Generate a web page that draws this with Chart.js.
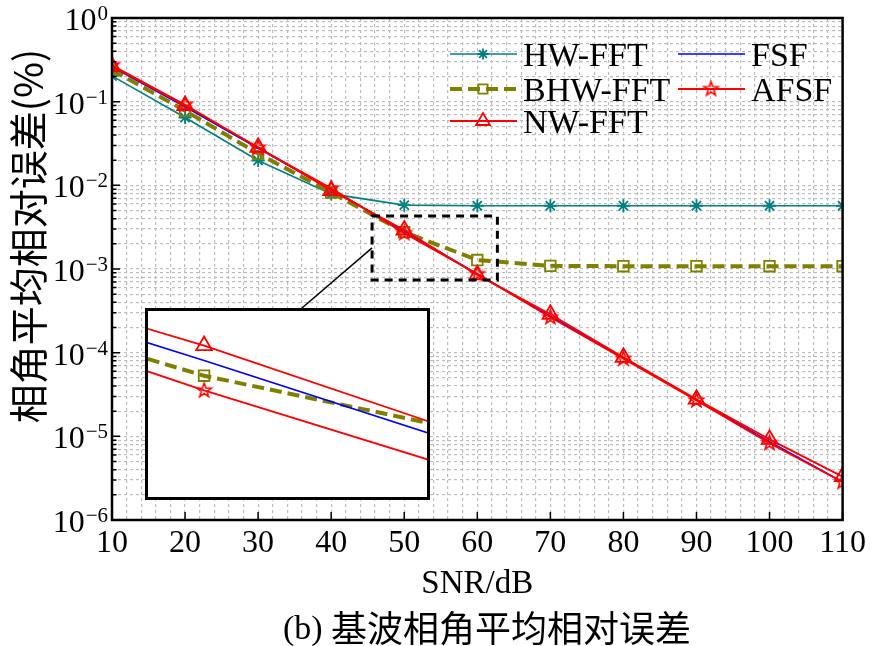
<!DOCTYPE html>
<html>
<head>
<meta charset="utf-8">
<script src="https://cdn.jsdelivr.net/npm/chart.js@4"></script>
<style>
  html, body { margin: 0; padding: 0; background: #fff; }
  #wrap { position: relative; width: 870px; height: 646px; }
  #main { position: absolute; left: 0; top: 0; }
  #insetBox { position: absolute; left: 145px; top: 308px; width: 279px; height: 186px; border: 3px solid #000; background: #fff; }
  #inset { display: block; }
</style>
</head>
<body>
<div id="wrap">
  <canvas id="main" width="870" height="646"></canvas>
  <div id="insetBox"><canvas id="inset" width="279" height="186"></canvas></div>
</div>
<script>
// SNR (dB) on the x axis
const snr = [10, 20, 30, 40, 50, 60, 70, 80, 90, 100, 110];

// mean relative phase error (%) per method
const hwFft = [0.203, 0.0646, 0.0198, 0.0079, 0.0058, 0.0057, 0.0057, 0.0057, 0.0057, 0.0057, 0.0057];
const bhwFft = [0.24, 0.078, 0.024, 0.0082, 0.00276, 0.00128, 0.00109, 0.00108, 0.00108, 0.00108, 0.00108];
const nwFft = [0.265, 0.090, 0.0285, 0.00866, 0.00292, 0.00085, 0.000288, 0.000088, 0.0000278, 0.0000092, 0.0000033];
const fsf = [0.26, 0.087, 0.0278, 0.0089, 0.00284, 0.00087, 0.000272, 0.0000865, 0.0000272, 0.0000086, 0.00000285];
const afsf = [0.272, 0.092, 0.0282, 0.0092, 0.002685, 0.00087, 0.000265, 0.0000845, 0.0000269, 0.0000083, 0.00000285];

const seriesNames = ["HW-FFT", "BHW-FFT", "NW-FFT", "FSF", "AFSF"];

// axes
const xMin = 10, xMax = 110, xGridStep = 2, xLabelStep = 10;
const yExponents = [0, -1, -2, -3, -4, -5, -6];
const yMinorMantissas = [2, 3, 4, 5, 6, 7, 8, 9];

// zoom window marked on the main plot, and the range the inset shows
const zoomBoxX = [45.6, 62.75];
const zoomBoxY = [0.00074, 0.0043];
const zoomLinkY = 0.00179;
const insetX = [49.713, 51.141];
const insetY = [0.002223, 0.003115];

const xTitle = "SNR/dB";
const yTitle = "相角平均相对误差(%)";
const captionTag = "(b)";
const captionText = "基波相角平均相对误差";

const SERIF = "'Liberation Serif', 'Times New Roman', serif";
const CJK = "'Noto Sans CJK SC', 'Noto Sans', sans-serif";
const TEAL = "#008080", OLIVE = "#808000", RED = "#ff0000", BLUE = "#0000ff";
const GRID = "#bdbdbd";

function starMarker(r, color) {
    const c = document.createElement("canvas");
    const s = Math.ceil(r * 2 + 4);
    c.width = s; c.height = s;
    const ctx = c.getContext("2d");
    ctx.strokeStyle = color;
    ctx.lineWidth = 1.6;
    ctx.beginPath();
    for (let i = 0; i < 10; i++) {
        const rr = i % 2 ? r * 0.4 : r;
        const a = -Math.PI / 2 + i * Math.PI / 5;
        const px = s / 2 + rr * Math.cos(a), py = s / 2 + rr * Math.sin(a);
        if (i) ctx.lineTo(px, py); else ctx.moveTo(px, py);
    }
    ctx.closePath();
    ctx.stroke();
    return c;
}
const pentagram = starMarker(7.5, RED);

function pts(values) {
    return snr.map((x, i) => ({ x: x, y: values[i] }));
}

function makeDatasets() {
    const common = { pointBackgroundColor: "rgba(0,0,0,0)", pointHoverRadius: 0, tension: 0 };
    return [
        Object.assign({}, common, { label: seriesNames[0], data: pts(hwFft), borderColor: TEAL, pointBorderColor: TEAL,
            borderWidth: 1.6, pointStyle: "star", pointRadius: 6.5, pointBorderWidth: 1.8, order: 4 }),
        Object.assign({}, common, { label: seriesNames[1], data: pts(bhwFft), borderColor: OLIVE, pointBorderColor: OLIVE,
            borderWidth: 4, borderDash: [12, 6], pointStyle: "rect", pointRadius: 7.5, pointBorderWidth: 1.8, order: 3 }),
        Object.assign({}, common, { label: seriesNames[2], data: pts(nwFft), borderColor: RED, pointBorderColor: RED,
            borderWidth: 1.8, pointStyle: "triangle", pointRadius: 9, pointBorderWidth: 1.8, order: 1 }),
        Object.assign({}, common, { label: seriesNames[3], data: pts(fsf), borderColor: BLUE,
            borderWidth: 1.6, pointRadius: 0, order: 2 }),
        Object.assign({}, common, { label: seriesNames[4], data: pts(afsf), borderColor: RED, pointBorderColor: RED,
            borderWidth: 1.8, pointStyle: pentagram, pointRadius: 7.5, pointBorderWidth: 1.6, order: 0 })
    ];
}

const yGridValues = [];
yExponents.slice().reverse().forEach((e) => {
    yGridValues.push(Math.pow(10, e));
    if (e < 0) yMinorMantissas.forEach((m) => yGridValues.push(m * Math.pow(10, e)));
});

const legendSlots = [
    { x: 450, y: 54 }, { x: 450, y: 89 }, { x: 450, y: 121 },
    { x: 678, y: 54 }, { x: 678, y: 89 }
];

const decorations = {
    id: "decorations",
    afterDraw(chart) {
        const ctx = chart.ctx;
        const a = chart.chartArea;
        const xs = chart.scales.x, ys = chart.scales.y;
        ctx.save();

        // inward tick marks
        ctx.strokeStyle = "#000";
        ctx.lineWidth = 1.5;
        ctx.beginPath();
        yExponents.forEach((e) => {
            const py = ys.getPixelForValue(Math.pow(10, e));
            ctx.moveTo(a.left, py); ctx.lineTo(a.left + 8, py);
            if (e < 0) yMinorMantissas.forEach((m) => {
                const q = ys.getPixelForValue(m * Math.pow(10, e));
                ctx.moveTo(a.left, q); ctx.lineTo(a.left + 4.5, q);
            });
        });
        for (let v = xMin; v <= xMax; v += xLabelStep) {
            const px = xs.getPixelForValue(v);
            ctx.moveTo(px, a.bottom); ctx.lineTo(px, a.bottom - 8);
        }
        ctx.stroke();

        // frame
        ctx.lineWidth = 2.5;
        ctx.strokeRect(a.left, a.top, a.right - a.left, a.bottom - a.top);

        // y tick labels 10^n
        ctx.fillStyle = "#000";
        ctx.textAlign = "right";
        ctx.textBaseline = "alphabetic";
        yExponents.forEach((e) => {
            const py = ys.getPixelForValue(Math.pow(10, e));
            const ex = e === 0 ? "0" : "\u2212" + Math.abs(e);
            ctx.font = "21px " + SERIF;
            const w = ctx.measureText(ex).width;
            ctx.fillText(ex, 108, py + 2);
            ctx.font = "32px " + SERIF;
            ctx.fillText("10", 108 - w - 1, py + 12);
        });

        // y title
        ctx.save();
        ctx.translate(28, 236);
        ctx.rotate(-Math.PI / 2);
        ctx.textAlign = "center";
        ctx.textBaseline = "middle";
        ctx.font = "39px " + CJK;
        ctx.fillText(yTitle, 0, 0);
        ctx.restore();

        // caption
        ctx.font = "34px " + SERIF;
        const tagW = ctx.measureText(captionTag + " ").width;
        ctx.font = "36px " + CJK;
        const txtW = ctx.measureText(captionText).width;
        let cx = 487 - (tagW + txtW) / 2;
        ctx.textAlign = "left";
        ctx.textBaseline = "middle";
        ctx.font = "34px " + SERIF;
        ctx.fillText(captionTag, cx, 630);
        ctx.font = "36px " + CJK;
        ctx.fillText(captionText, cx + tagW, 628);

        // zoom window and link to the inset
        const bx0 = xs.getPixelForValue(zoomBoxX[0]), bx1 = xs.getPixelForValue(zoomBoxX[1]);
        const by0 = ys.getPixelForValue(zoomBoxY[1]), by1 = ys.getPixelForValue(zoomBoxY[0]);
        ctx.setLineDash([8, 6]);
        ctx.lineWidth = 3;
        ctx.strokeRect(bx0, by0, bx1 - bx0, by1 - by0);
        ctx.setLineDash([]);
        const box = document.getElementById("insetBox");
        ctx.lineWidth = 1.5;
        ctx.beginPath();
        ctx.moveTo(bx0, ys.getPixelForValue(zoomLinkY));
        ctx.lineTo(box.offsetLeft + 157, box.offsetTop);
        ctx.stroke();

        // legend
        chart.data.datasets.forEach((ds, i) => {
            const s = legendSlots[i];
            ctx.strokeStyle = ds.borderColor;
            ctx.lineWidth = ds.borderWidth;
            ctx.setLineDash(ds.borderDash || []);
            ctx.beginPath();
            ctx.moveTo(s.x, s.y); ctx.lineTo(s.x + 67, s.y);
            ctx.stroke();
            ctx.setLineDash([]);
            if (ds.pointRadius > 0) {
                ctx.fillStyle = "rgba(0,0,0,0)";
                ctx.lineWidth = ds.pointBorderWidth;
                Chart.helpers.drawPoint(ctx, { pointStyle: ds.pointStyle, radius: ds.pointRadius - 1,
                    borderWidth: ds.pointBorderWidth, rotation: 0 }, s.x + 33, s.y);
            }
            ctx.fillStyle = "#000";
            ctx.textAlign = "left";
            ctx.textBaseline = "alphabetic";
            ctx.font = "34px " + SERIF;
            ctx.fillText(ds.label, s.x + 73, s.y + 12);
        });
        ctx.restore();
    }
};

new Chart(document.getElementById("main"), {
    type: "line",
    data: { datasets: makeDatasets() },
    options: {
        responsive: false,
        animation: false,
        devicePixelRatio: 1,
        layout: { padding: { left: 0, right: 27, top: 18, bottom: 42 }, autoPadding: false },
        plugins: { legend: { display: false }, tooltip: { enabled: false } },
        scales: {
            x: {
                type: "linear", min: xMin, max: xMax,
                afterFit: (s) => { s.height = 84; },
                ticks: {
                    stepSize: xGridStep, autoSkip: false, maxRotation: 0, padding: 4, color: "#000",
                    font: { family: SERIF, size: 32 },
                    callback: (v) => (v % xLabelStep === 0 ? String(v) : "")
                },
                grid: { color: GRID, lineWidth: 1.2, drawTicks: false },
                border: { display: false, dash: [3, 3] },
                title: { display: true, text: xTitle, color: "#000", font: { family: SERIF, size: 33 }, padding: 0 }
            },
            y: {
                type: "logarithmic", min: 1e-6, max: 1,
                afterFit: (s) => { s.width = 112; },
                afterBuildTicks: (s) => { s.ticks = yGridValues.map((v) => ({ value: v })); },
                ticks: { display: false },
                grid: { color: GRID, lineWidth: 1.2, drawTicks: false },
                border: { display: false, dash: [3, 3] }
            }
        }
    },
    plugins: [decorations]
});

new Chart(document.getElementById("inset"), {
    type: "line",
    data: { datasets: makeDatasets() },
    options: {
        responsive: false,
        animation: false,
        devicePixelRatio: 1,
        layout: { padding: 0, autoPadding: false },
        plugins: { legend: { display: false }, tooltip: { enabled: false } },
        scales: {
            x: { type: "linear", display: false, min: insetX[0], max: insetX[1] },
            y: { type: "logarithmic", display: false, min: insetY[0], max: insetY[1] }
        }
    }
});
</script>
</body>
</html>
